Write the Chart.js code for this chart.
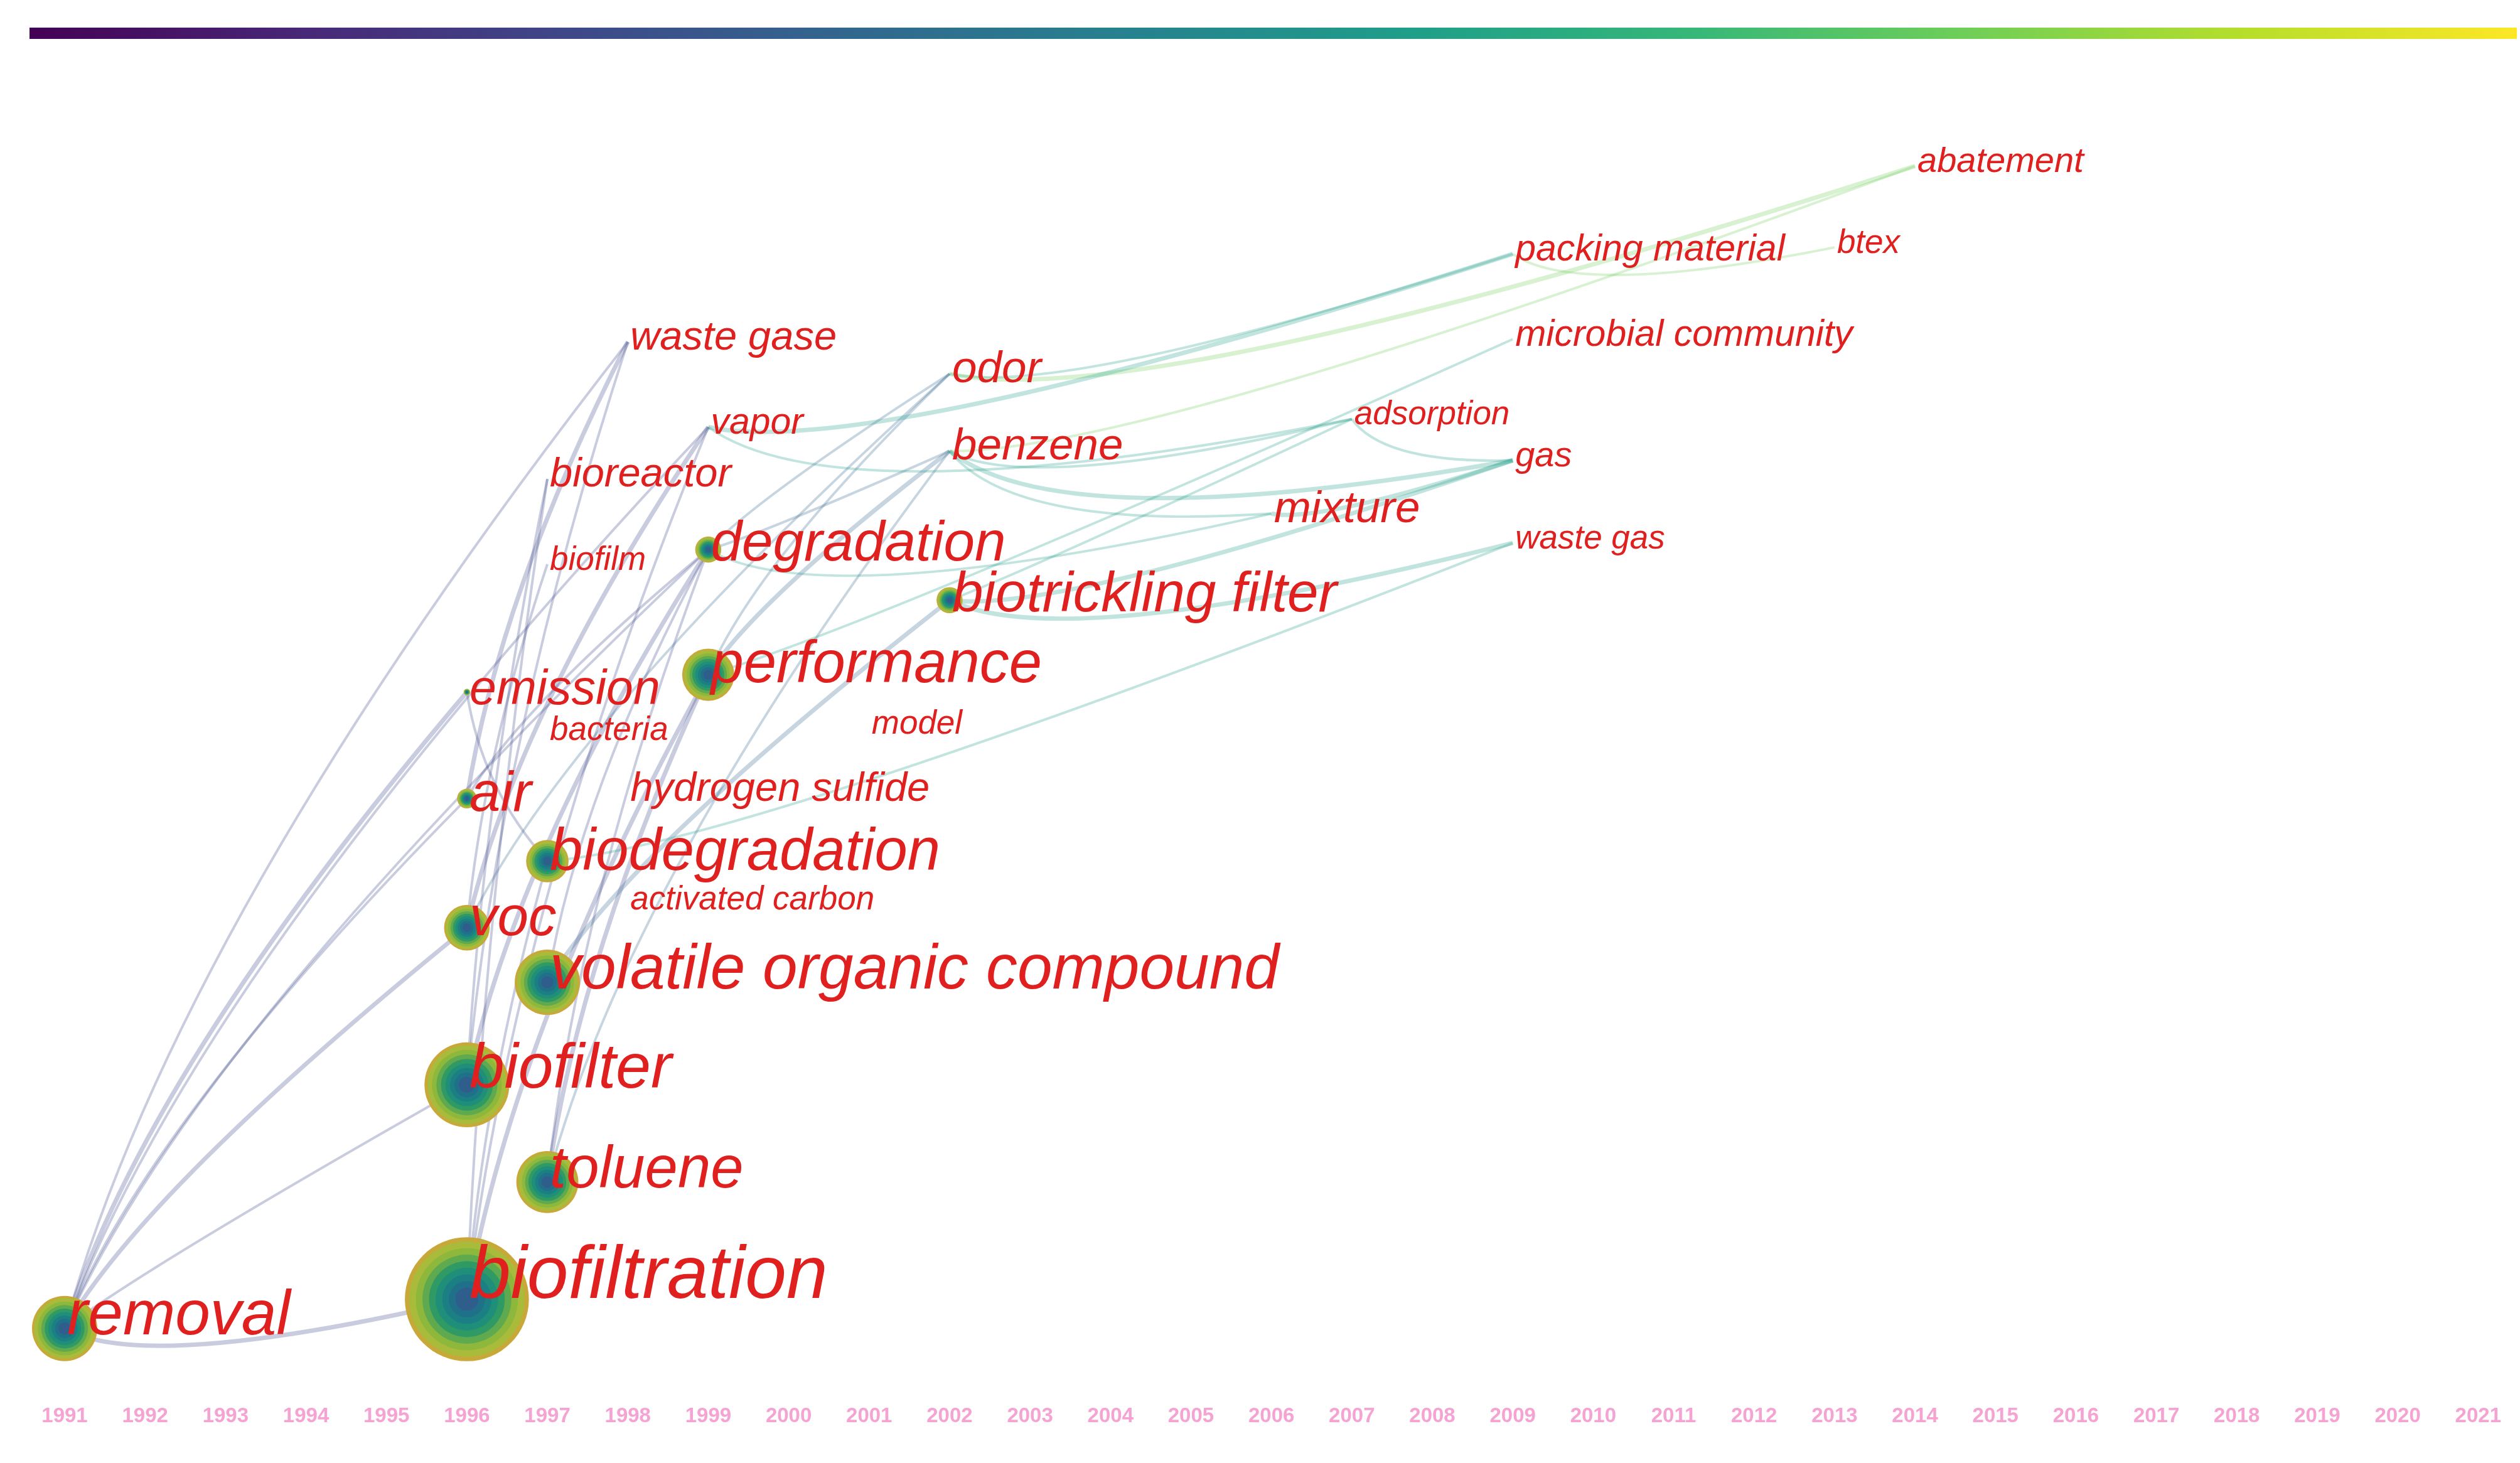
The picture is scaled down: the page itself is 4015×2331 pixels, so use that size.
<!DOCTYPE html>
<html><head><meta charset="utf-8">
<script src="https://cdn.jsdelivr.net/npm/chart.js@4/dist/chart.umd.min.js"></script>
<style>html,body{margin:0;padding:0;background:#fff}#c{display:block}</style>
</head><body>
<canvas id="c" width="4015" height="2331"></canvas>
<script>
const labels = ["removal","biofiltration","toluene","biofilter","volatile organic compound","voc","biodegradation","air","performance","degradation","biotrickling filter","emission","waste gase","vapor","bioreactor","biofilm","bacteria","hydrogen sulfide","activated carbon","model","odor","benzene","mixture","adsorption","waste gas","gas","microbial community","packing material","btex","abatement"];
const years = [1991,1996,1997,1996,1997,1996,1997,1996,1999,1999,2002,1996,1998,1999,1997,1997,1997,1998,1998,2001,2002,2002,2006,2007,2009,2009,2009,2009,2013,2014];
const rows = [3.9,6.1,14.9,22.2,29.9,34.0,39.0,43.7,53.0,62.4,58.6,51.7,78.0,71.6,67.7,61.3,48.5,44.1,35.8,49.0,75.6,69.8,65.1,72.2,62.9,69.1,78.2,84.6,85.1,91.2];
const counts = [20,38,19,26,20,14,13,6,16,8,8,2,0,0,0,0,0,0,0,0,0,0,0,0,0,0,0,0,0,0];
const fontSizes = [34,40,32,34,34,30,32,30,32,30,30,26,22,20,22,18,18,22,18,18,24,24,24,18,18,19,20,20,18,19];
const links = [["removal","biofiltration"],["removal","waste gase"],["removal","degradation"],["removal","emission"],["removal","biofilter"],["removal","air"],["removal","voc"],["removal","vapor"],["biofiltration","vapor"],["biofiltration","performance"],["biofiltration","biodegradation"],["biofiltration","bioreactor"],["biofilter","degradation"],["biofilter","waste gase"],["toluene","benzene"],["toluene","performance"],["voc","odor"],["voc","biofilm"],["air","waste gase"],["air","degradation"],["biofilter","bioreactor"],["volatile organic compound","biotrickling filter"],["volatile organic compound","degradation"],["performance","odor"],["performance","benzene"],["degradation","benzene"],["degradation","odor"],["biotrickling filter","gas"],["biotrickling filter","adsorption"],["benzene","adsorption"],["benzene","gas"],["benzene","mixture"],["odor","packing material"],["odor","abatement"],["packing material","btex"],["benzene","abatement"],["biotrickling filter","waste gas"],["degradation","mixture"],["performance","microbial community"],["vapor","packing material"],["vapor","adsorption"],["emission","biodegradation"],["voc","vapor"],["toluene","degradation"],["biodegradation","waste gas"],["mixture","gas"],["adsorption","gas"]];
const S = 2.6, F = 2.95;
const viridis = ["#440154","#482878","#3e4989","#31688e","#26828e","#1f9e89","#35b779","#6ece58","#b5de2b","#fde725"];
function vcol(t){const i=Math.max(0,Math.min(viridis.length-1,Math.round(t*(viridis.length-1))));return viridis[i];}

const plugin = {
  id:'cs',
  beforeDatasetsDraw(chart){
    const ctx=chart.ctx, meta=chart.getDatasetMeta(0);
    const g=ctx.createLinearGradient(47,0,4010,0);
    viridis.forEach((c,i)=>g.addColorStop(i/(viridis.length-1),c));
    ctx.fillStyle=g; ctx.fillRect(47,44,3963,18);
    ctx.save();
    links.forEach(([a,b],k)=>{
      const i=labels.indexOf(a), j=labels.indexOf(b);
      const p=meta.data[i], q=meta.data[j];
      const t=(years[j]-1991)/30;
      ctx.strokeStyle=vcol(t); ctx.globalAlpha=0.28; ctx.lineWidth=k%3===0?7:4;
      ctx.beginPath(); ctx.moveTo(p.x,p.y);
      const mx=(p.x+q.x)/2 - (q.y-p.y)*0.15, my=(p.y+q.y)/2 + (q.x-p.x)*0.15;
      ctx.quadraticCurveTo(Math.min(mx,p.x+(q.x-p.x)*0.2), my, q.x, q.y); ctx.stroke();
    });
    ctx.restore();
  },
  afterDatasetsDraw(chart){
    const ctx=chart.ctx, meta=chart.getDatasetMeta(0);
    meta.data.forEach((pt,i)=>{
      const r=counts[i]*S;
      if(r>0){
        ctx.beginPath();ctx.arc(pt.x,pt.y,r,0,Math.PI*2);ctx.fillStyle="#c9a83a";ctx.fill();
        const rings=["#a9bb3a","#8db83c","#5fa94f","#2f9a63","#1f8f7a","#1b7f84","#21708a","#2f5d8c"];
        rings.forEach((c,k)=>{const rr=r*(0.93-k*0.85/rings.length); if(rr<=0)return; ctx.beginPath();ctx.arc(pt.x,pt.y,rr,0,Math.PI*2);ctx.fillStyle=c;ctx.fill();});
      }
      ctx.save();
      ctx.font="italic "+Math.round(fontSizes[i]*F)+"px 'Liberation Sans', Arial, sans-serif";
      ctx.fillStyle="#e0201f"; ctx.textBaseline="middle"; ctx.textAlign="left";
      ctx.fillText(labels[i], pt.x+4, pt.y-(r>0?r*0.35:6));
      ctx.restore();
    });
  }
};

new Chart(document.getElementById('c'),{
  type:'scatter',
  data:{datasets:[{data:years.map((y,i)=>({x:y,y:rows[i]})),pointRadius:0,pointHoverRadius:0}]},
  options:{
    responsive:false,animation:false,
    layout:{padding:{left:103,right:0,top:78,bottom:24}},
    plugins:{legend:{display:false},tooltip:{enabled:false}},
    scales:{
      x:{type:'linear',min:1991,max:2021,grid:{display:false},border:{display:false},
        ticks:{stepSize:1,autoSkip:false,maxRotation:0,color:'#f4a3d3',font:{size:33,weight:'bold',family:'Liberation Sans'},padding:30,callback:v=>String(v)}},
      y:{min:0,max:100,display:false}
    }
  },
  plugins:[plugin]
});
</script>
</body></html>
